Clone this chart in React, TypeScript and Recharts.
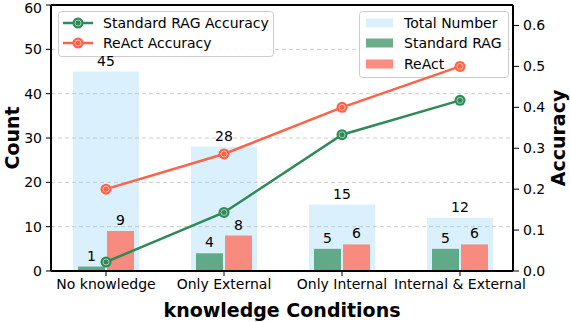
import React from "react";
import {
  ComposedChart,
  Bar,
  Line,
  XAxis,
  YAxis,
  CartesianGrid,
  LabelList,
  ReferenceLine,
  Customized,
} from "recharts";

const categories = ["No knowledge", "Only External", "Only Internal", "Internal & External"];
const totalNumber = [45, 28, 15, 12];
const standardRagCount = [1, 4, 5, 5];
const reactCount = [9, 8, 6, 6];
const standardRagAccuracy = [0.022, 0.143, 0.333, 0.417];
const reactAccuracy = [0.2, 0.286, 0.4, 0.5];
const countTicks = [0, 10, 20, 30, 40, 50, 60];
const accuracyTicks = [0, 0.1, 0.2, 0.3, 0.4, 0.5, 0.6];

const data = categories.map((name, i) => ({
  name,
  total: totalNumber[i],
  rag: standardRagCount[i],
  react: reactCount[i],
  ragAcc: standardRagAccuracy[i],
  reactAcc: reactAccuracy[i],
}));

const GREEN = "#2e8b57";
const RED = "#ff6347";
const FONT = "DejaVu Sans";

function makeDot(color: string) {
  return (props: any) => {
    const { cx, cy, index } = props;
    return (
      <g key={`dot-${color}-${index}`}>
        <circle cx={cx} cy={cy} r={5.5} fill={color} />
        <circle cx={cx} cy={cy} r={3} fill="none" stroke="#ffffff" strokeOpacity={0.55} strokeWidth={1} />
      </g>
    );
  };
}

function LineLegend() {
  const rows = [
    { label: "Standard RAG Accuracy", color: GREEN, y: 23 },
    { label: "ReAct Accuracy", color: RED, y: 43 },
  ];
  return (
    <g>
      <rect x={58.5} y={11.5} width={215} height={45} rx={3} fill="#ffffff" fillOpacity={0.8} stroke="#cccccc" />
      {rows.map((r) => (
        <g key={r.label}>
          <line x1={63} x2={93} y1={r.y} y2={r.y} stroke={r.color} strokeWidth={2.5} />
          <circle cx={78} cy={r.y} r={5.5} fill={r.color} />
          <circle cx={78} cy={r.y} r={3} fill="none" stroke="#ffffff" strokeOpacity={0.55} strokeWidth={1} />
          <text x={103} y={r.y + 5} fontSize={14} fill="#000" fontFamily={FONT}>
            {r.label}
          </text>
        </g>
      ))}
    </g>
  );
}

function BarLegend() {
  const rows = [
    { label: "Total Number", color: "#87cefa", opacity: 0.3, y: 23 },
    { label: "Standard RAG", color: GREEN, opacity: 0.7, y: 43 },
    { label: "ReAct", color: "#fa8072", opacity: 0.9, y: 64 },
  ];
  return (
    <g>
      <rect x={359.5} y={11.5} width={149} height={66} rx={3} fill="#ffffff" fillOpacity={0.8} stroke="#cccccc" />
      {rows.map((r) => (
        <g key={r.label}>
          <rect x={366} y={r.y - 4.5} width={27} height={9} fill={r.color} fillOpacity={r.opacity} />
          <text x={404} y={r.y + 5} fontSize={14} fill="#000" fontFamily={FONT}>
            {r.label}
          </text>
        </g>
      ))}
    </g>
  );
}

export default function App() {
  const tick = { fill: "#000", fontSize: 14 };
  const pad = { left: -4, right: -6 };
  return (
    <div
      style={{
        position: "absolute",
        left: 0,
        top: 0,
        width: 570,
        height: 322,
        background: "#fff",
        fontFamily: FONT,
      }}
    >
      <ComposedChart
        width={570}
        height={322}
        data={data}
        margin={{ top: 5, right: 0, bottom: 0, left: 0 }}
        barGap={2}
      >
        <CartesianGrid
          yAxisId="left"
          xAxisId="main"
          vertical={false}
          stroke="#cccccc"
          strokeDasharray="4 3"
        />
        <XAxis
          xAxisId="main"
          dataKey="name"
          height={51}
          padding={pad}
          tick={tick}
          tickSize={5}
          tickMargin={3}
          interval={0}
          axisLine={{ stroke: "#000", strokeWidth: 2 }}
          tickLine={{ stroke: "#000" }}
          label={{
            value: "knowledge Conditions",
            position: "insideBottom",
            offset: 5,
            fill: "#000",
            fontSize: 19,
            fontWeight: "bold",
          }}
        />
        <XAxis xAxisId="total" dataKey="name" hide padding={pad} />
        <YAxis
          yAxisId="left"
          width={51}
          domain={[0, 60]}
          ticks={countTicks}
          tick={tick}
          tickSize={5}
          tickMargin={4}
          axisLine={{ stroke: "#000", strokeWidth: 2 }}
          tickLine={{ stroke: "#000" }}
          label={{
            value: "Count",
            angle: -90,
            position: "center",
            dx: -13,
            fill: "#000",
            fontSize: 19,
            fontWeight: "bold",
          }}
        />
        <YAxis
          yAxisId="right"
          orientation="right"
          width={57}
          domain={[0, 0.65]}
          ticks={accuracyTicks}
          tickFormatter={(v: number) => v.toFixed(1)}
          tick={tick}
          tickSize={6}
          tickMargin={4}
          axisLine={{ stroke: "#000", strokeWidth: 2 }}
          tickLine={{ stroke: "#000" }}
          label={{
            value: "Accuracy",
            angle: -90,
            position: "center",
            dx: 17,
            fill: "#000",
            fontSize: 19,
            fontWeight: "bold",
          }}
        />
        <ReferenceLine yAxisId="left" xAxisId="main" y={60} stroke="#000" strokeWidth={2} />
        <Bar
          xAxisId="total"
          yAxisId="left"
          dataKey="total"
          name="Total Number"
          barSize={66}
          fill="#87cefa"
          fillOpacity={0.3}
          isAnimationActive={false}
        >
          <LabelList dataKey="total" position="top" offset={6} fill="#000" fontSize={14} />
        </Bar>
        <Bar
          xAxisId="main"
          yAxisId="left"
          dataKey="rag"
          name="Standard RAG"
          barSize={27}
          fill={GREEN}
          fillOpacity={0.7}
          isAnimationActive={false}
        >
          <LabelList dataKey="rag" position="top" offset={6} fill="#000" fontSize={14} />
        </Bar>
        <Bar
          xAxisId="main"
          yAxisId="left"
          dataKey="react"
          name="ReAct"
          barSize={27}
          fill="#fa8072"
          fillOpacity={0.9}
          isAnimationActive={false}
        >
          <LabelList dataKey="react" position="top" offset={6} fill="#000" fontSize={14} />
        </Bar>
        <Customized component={<BarLegend />} />
        <Line
          xAxisId="main"
          yAxisId="right"
          dataKey="ragAcc"
          name="Standard RAG Accuracy"
          stroke={GREEN}
          strokeWidth={2.5}
          dot={makeDot(GREEN)}
          activeDot={false}
          isAnimationActive={false}
        />
        <Line
          xAxisId="main"
          yAxisId="right"
          dataKey="reactAcc"
          name="ReAct Accuracy"
          stroke={RED}
          strokeWidth={2.5}
          dot={makeDot(RED)}
          activeDot={false}
          isAnimationActive={false}
        />
        <Customized component={<LineLegend />} />
      </ComposedChart>
    </div>
  );
}
